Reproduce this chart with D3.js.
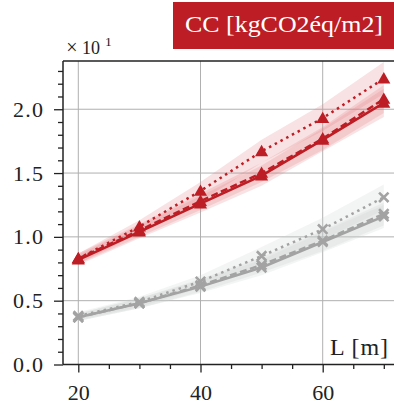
<!DOCTYPE html>
<html><head><meta charset="utf-8">
<script src="https://cdn.jsdelivr.net/npm/d3@7"></script>
<style>html,body{margin:0;padding:0;background:#fff;}svg{display:block;} text{font-family:'Liberation Serif','DejaVu Serif',serif !important;}</style>
</head><body>
<script>
const L = [20, 30, 40, 50, 60, 70];
const xTicksMajor = [20, 40, 60];
const yTickValues = [0, 5, 10, 15, 20];
const yTickLabels = ["0.0", "0.5", "1.0", "1.5", "2.0"];

// Red series (triangles)
const redSolid  = [8.2, 10.4, 12.6, 14.8, 17.6, 20.5];
const redDashed = [8.3, 10.5, 12.8, 15.0, 17.7, 20.8];
const redDotted = [8.3, 10.8, 13.6, 16.7, 19.3, 22.4];
const redSolidLo  = [7.8, 9.9, 11.9, 14.0, 16.7, 19.4];
const redSolidHi  = [8.6, 10.9, 13.2, 15.6, 18.5, 21.6];
const redDashedLo = [7.9, 10.0, 12.1, 14.3, 16.8, 19.7];
const redDashedHi = [8.7, 11.0, 13.4, 15.8, 18.6, 21.9];
const redDottedLo = [7.9, 10.3, 12.8, 15.8, 18.3, 21.2];
const redDottedHi = [8.7, 11.3, 14.3, 17.6, 20.4, 23.7];

// Grey series (crosses)
const greySolid  = [3.7, 4.8, 6.1, 7.6, 9.6, 11.6];
const greyDashed = [3.7, 4.8, 6.2, 7.8, 9.7, 11.8];
const greyDotted = [3.8, 4.9, 6.5, 8.5, 10.6, 13.1];
const greySolidLo  = [3.4, 4.4, 5.6, 7.0, 8.8, 10.7];
const greySolidHi  = [4.0, 5.2, 6.6, 8.2, 10.4, 12.5];
const greyDashedLo = [3.4, 4.4, 5.7, 7.2, 8.9, 10.9];
const greyDashedHi = [4.0, 5.2, 6.7, 8.4, 10.5, 12.7];
const greyDottedLo = [3.5, 4.5, 6.0, 7.8, 9.8, 12.1];
const greyDottedHi = [4.1, 5.3, 7.0, 9.2, 11.5, 14.1];

const titleText = "CC [kgCO2éq/m2]";
const xLabel = "L [m]";

const W = 394, H = 408;
const RED = "#bd1d24", GREY = "#a3a3a3";

const svg = d3.select("body").append("svg").attr("width", W).attr("height", H);

const pLeft = 63, pTop = 61, pBottom = 364.5;
const x = d3.scaleLinear().domain([20, 60]).range([78.3, 322.7]);
const y = d3.scaleLinear().domain([0, 23.78]).range([pBottom, pTop]);

// clip
svg.append("defs").append("clipPath").attr("id", "plot")
  .append("rect").attr("x", pLeft).attr("y", pTop).attr("width", 400 - pLeft).attr("height", pBottom - pTop);

// grid
const grid = svg.append("g");
grid.selectAll(".gx").data(xTicksMajor).enter().append("line")
  .attr("x1", d => x(d)).attr("x2", d => x(d)).attr("y1", pTop).attr("y2", pBottom)
  .attr("stroke", "#b0b0b0").attr("stroke-width", 1);
grid.selectAll(".gy").data(yTickValues.slice(1)).enter().append("line")
  .attr("x1", pLeft).attr("x2", 400).attr("y1", d => y(d)).attr("y2", d => y(d))
  .attr("stroke", "#b0b0b0").attr("stroke-width", 1);

const plot = svg.append("g").attr("clip-path", "url(#plot)");

const series = [
  {v: greySolid, lo: greySolidLo, hi: greySolidHi, c: GREY, dash: null, m: "x", band: "#c8cccc"},
  {v: greyDashed, lo: greyDashedLo, hi: greyDashedHi, c: GREY, dash: "7,3.5", m: "x", band: "#c8cccc"},
  {v: greyDotted, lo: greyDottedLo, hi: greyDottedHi, c: GREY, dash: "2.5,4", m: "x", band: "#c8cccc"},
  {v: redSolid, lo: redSolidLo, hi: redSolidHi, c: RED, dash: null, m: "tri", band: "#e47a7e"},
  {v: redDashed, lo: redDashedLo, hi: redDashedHi, c: RED, dash: "7,3.5", m: "tri", band: "#e47a7e"},
  {v: redDotted, lo: redDottedLo, hi: redDottedHi, c: RED, dash: "2.5,4", m: "tri", band: "#e47a7e"},
];

const area = d3.area().x((d, i) => x(L[i])).y0(d => y(d[0])).y1(d => y(d[1]));
const line = d3.line().x((d, i) => x(L[i])).y(d => y(d));

series.forEach(s => {
  plot.append("path").datum(s.lo.map((d, i) => [d, s.hi[i]]))
    .attr("d", area).attr("fill", s.band).attr("fill-opacity", 0.22).attr("stroke", "none");
});
series.forEach(s => {
  plot.append("path").datum(s.v).attr("d", line)
    .attr("fill", "none").attr("stroke", s.c).attr("stroke-width", 2.5)
    .attr("stroke-dasharray", s.dash);
  const g = plot.append("g");
  if (s.m === "tri") {
    g.selectAll("path").data(s.v).enter().append("path")
      .attr("d", d3.symbol(d3.symbolTriangle, 74)())
      .attr("transform", (d, i) => `translate(${x(L[i])},${y(d) + 1})`)
      .attr("fill", s.c);
  } else {
    g.selectAll("path").data(s.v).enter().append("path")
      .attr("d", d3.symbol(d3.symbolX, 60)())
      .attr("transform", (d, i) => `translate(${x(L[i])},${y(d)})`)
      .attr("fill", "none").attr("stroke", s.c).attr("stroke-width", 2.6);
  }
});

// axes
svg.append("g").attr("class", "ax").attr("transform", `translate(${pLeft},0)`)
  .call(d3.axisLeft(y).tickValues(yTickValues).tickFormat((d, i) => yTickLabels[i]).tickSize(9).tickPadding(11));
const yMinor = d3.range(0, 24, 1).filter(v => v % 5 !== 0);
svg.append("g").attr("transform", `translate(${pLeft},0)`)
  .call(d3.axisLeft(y).tickValues(yMinor).tickFormat("").tickSize(5));

const xAx = svg.append("g").attr("class", "ax").attr("transform", `translate(0,${pBottom})`)
  .call(d3.axisBottom(x).tickValues(xTicksMajor).tickSize(8).tickFormat(d3.format("d")));
xAx.selectAll(".tick text").attr("y", 35.5).attr("dy", null);
const xMinor = [25, 30, 35, 45, 50, 55, 65, 70];
svg.append("g").attr("transform", `translate(0,${pBottom})`)
  .call(d3.axisBottom(x).tickValues(xMinor).tickFormat("").tickSize(4.5));

svg.selectAll(".domain").remove();
svg.selectAll(".tick line").attr("stroke", "#222").attr("stroke-width", 1.3);
svg.selectAll(".tick text").attr("font-size", 22).attr("fill", "#222");
svg.selectAll(".ax .tick text").filter(function() { return this.textContent.length === 3; })
  .attr("textLength", 30).attr("lengthAdjust", "spacing");

// spines
svg.append("line").attr("x1", pLeft).attr("x2", pLeft).attr("y1", pTop).attr("y2", pBottom)
  .attr("stroke", "#222").attr("stroke-width", 1.5);
svg.append("line").attr("x1", pLeft).attr("x2", W).attr("y1", pTop).attr("y2", pTop)
  .attr("stroke", "#222").attr("stroke-width", 1.5);
svg.append("line").attr("x1", pLeft).attr("x2", W).attr("y1", pBottom).attr("y2", pBottom)
  .attr("stroke", "#222").attr("stroke-width", 1.5);

// offset label  ×10^1
svg.append("text").attr("x", 72).attr("y", 54).attr("text-anchor", "middle")
  .attr("font-size", 20).attr("fill", "#222").text("×");
svg.append("text").attr("x", 82).attr("y", 54)
  .attr("font-size", 18).attr("fill", "#222").attr("textLength", 18).text("10");
svg.append("text").attr("x", 105).attr("y", 46)
  .attr("font-size", 13.5).attr("fill", "#222").text("1");

// x label
svg.append("text").attr("x", 388).attr("y", 355).attr("text-anchor", "end")
  .attr("font-size", 24).attr("fill", "#222").attr("textLength", 58).attr("lengthAdjust", "spacing").text(xLabel);

// title box
svg.append("rect").attr("x", 173).attr("y", 2).attr("width", W - 173).attr("height", 47).attr("fill", RED);
svg.append("text").attr("x", 185).attr("y", 32)
  .attr("font-size", 24).attr("fill", "#fff")
  .attr("textLength", 198).attr("lengthAdjust", "spacingAndGlyphs").text(titleText);
</script>
</body></html>
